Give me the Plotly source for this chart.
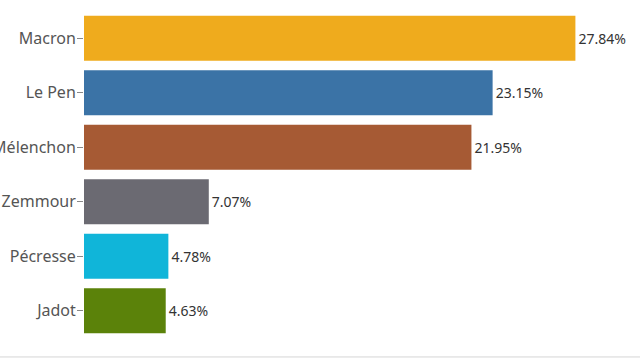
import plotly.graph_objects as go

candidates = ["Macron", "Le Pen", "Mélenchon", "Zemmour", "Pécresse", "Jadot"]
values = [27.84, 23.15, 21.95, 7.07, 4.78, 4.63]
labels = ["27.84%", "23.15%", "21.95%", "7.07%", "4.78%", "4.63%"]
colors = ["#efab1d", "#3b73a6", "#a65a34", "#6b6a72", "#10b5d9", "#5b820a"]

fig = go.Figure(go.Bar(
    x=values, y=candidates, orientation="h",
    marker=dict(color=colors, line=dict(width=0)),
    text=labels, textposition="outside",
    textfont=dict(family="Noto Sans", size=14, color="#333333"),
    cliponaxis=False,
))

fig.update_layout(
    width=640, height=360,
    margin=dict(l=84, r=0, t=11, b=22, autoexpand=False),
    paper_bgcolor="white", plot_bgcolor="white",
    bargap=0.17, showlegend=False,
    xaxis=dict(range=[0, 31.5], visible=False, fixedrange=True, automargin=False),
    yaxis=dict(
        autorange="reversed", showgrid=False, zeroline=False, automargin=False,
        ticks="outside", ticklen=6, tickcolor="#888888", tickwidth=1,
        tickfont=dict(family="Noto Sans", size=16, color="#555555"),
        ticklabelstandoff=-2,
    ),
    shapes=[dict(type="line", xref="paper", yref="paper", x0=-0.2, x1=1.0,
                 y0=-0.058, y1=-0.058, line=dict(color="#d5d5d5", width=1))],
)

fig.write_html("out.html", config={"displayModeBar": False},
               post_script="document.body.style.margin='0';")
